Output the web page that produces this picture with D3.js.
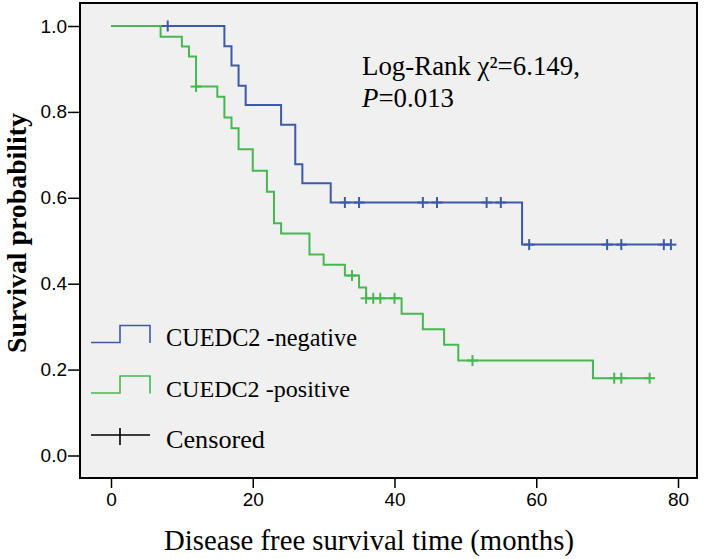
<!DOCTYPE html>
<html><head><meta charset="utf-8">
<script src="https://cdn.jsdelivr.net/npm/d3@7"></script>
<style>body{margin:0;background:#fff}svg{display:block}</style>
</head><body>
<svg id="c" width="713" height="559"></svg>
<script>
// ---- data ----
const xTicks = [0, 20, 40, 60, 80];
const yTicks = [0.0, 0.2, 0.4, 0.6, 0.8, 1.0];
const yTickLabels = ["0.0", "0.2", "0.4", "0.6", "0.8", "1.0"];

const negTimes = [0, 16, 17, 18, 19, 24, 26, 27, 31, 58];
const negSurv  = [1, 0.953, 0.908, 0.861, 0.816, 0.770, 0.678, 0.634, 0.589, 0.491];
const negEnd = 79;
const negCensored = [8, 33, 35, 44, 46, 53, 55, 59, 70, 72, 78, 79];

const posTimes = [0, 7, 10, 11, 12, 15, 16, 17, 18, 20, 22, 23, 24, 28, 30, 33, 35, 36, 41, 44, 47, 49, 68];
const posSurv  = [1, 0.975, 0.952, 0.929, 0.859, 0.835, 0.787, 0.762, 0.713, 0.663, 0.614, 0.541, 0.517, 0.468, 0.444, 0.419, 0.391, 0.366, 0.330, 0.294, 0.258, 0.221, 0.180];
const posEnd = 76;
const posCensored = [12, 34, 36, 37, 38, 40, 51, 71, 72, 76];

const legendLabels = ["CUEDC2 -negative", "CUEDC2 -positive", "Censored"];
const statLine1 = "Log-Rank \u03c7\u00b2=6.149,";
const statLine2 = "=0.013";
const xTitle = "Disease free survival time (months)";
const yTitle = "Survival probability";

// ---- styles ----
const BLUE = "#3d5aa9", GREEN = "#45b84f";
const SANS = "'Liberation Sans Narrow','Arial Narrow','Liberation Sans',Arial,sans-serif";
const SERIF = "'Liberation Serif','Times New Roman',serif";

const svg = d3.select("#c");
const frame = {l: 80, r: 697, t: 3, b: 478};
const x = d3.scaleLinear().domain([0, 80]).range([111, 678]);
const y = d3.scaleLinear().domain([0, 1]).range([455.5, 26]);

svg.append("rect").attr("x", frame.l).attr("y", frame.t)
  .attr("width", frame.r - frame.l).attr("height", frame.b - frame.t)
  .attr("fill", "#f0f0f0").attr("stroke", "none");

function fit(sel, w) {
  const fs = parseFloat(sel.attr("font-size"));
  const l = sel.node().getComputedTextLength();
  sel.attr("font-size", (fs * w / l).toFixed(2));
  return sel;
}

// axes
const yAxis = d3.axisLeft(y).tickValues(yTicks).tickSize(12).tickPadding(1)
  .tickFormat((d, i) => yTickLabels[i]);
const gy = svg.append("g").attr("transform", `translate(${frame.l},0)`).call(yAxis);
gy.select(".domain").remove();
gy.selectAll("line").attr("stroke", "#000").attr("stroke-width", 1.5);
gy.selectAll("text").attr("font-family", SANS).attr("font-size", 19).attr("fill", "#000");

const xAxis = d3.axisBottom(x).tickValues(xTicks).tickSize(10).tickPadding(5)
  .tickFormat(d3.format("d"));
const gx = svg.append("g").attr("transform", `translate(0,${frame.b})`).call(xAxis);
gx.select(".domain").remove();
gx.selectAll("line").attr("stroke", "#000").attr("stroke-width", 1.5);
gx.selectAll("text").attr("font-family", SANS).attr("font-size", 19).attr("fill", "#000");

// curves
const line = d3.line().x(d => x(d[0])).y(d => y(d[1])).curve(d3.curveStepAfter);
function survAt(times, surv, t) {
  let s = surv[0];
  for (let i = 0; i < times.length; i++) if (times[i] <= t) s = surv[i];
  return s;
}
function drawCurve(times, surv, end, cens, color) {
  const pts = times.map((t, i) => [t, surv[i]]);
  pts.push([end, surv[surv.length - 1]]);
  svg.append("path").attr("d", line(pts)).attr("fill", "none")
    .attr("stroke", color).attr("stroke-width", 2);
  const g = svg.append("g");
  cens.forEach(t => {
    const cx = x(t), cy = y(survAt(times, surv, t));
    g.append("line").attr("x1", cx).attr("x2", cx).attr("y1", cy - 5.5).attr("y2", cy + 5.5)
      .attr("stroke", color).attr("stroke-width", 2);
    g.append("line").attr("x1", cx - 5.5).attr("x2", cx + 5.5).attr("y1", cy).attr("y2", cy)
      .attr("stroke", color).attr("stroke-width", 2);
  });
}
drawCurve(negTimes, negSurv, negEnd, negCensored, BLUE);
drawCurve(posTimes, posSurv, posEnd, posCensored, GREEN);

// frame
svg.append("rect").attr("x", frame.l).attr("y", frame.t)
  .attr("width", frame.r - frame.l).attr("height", frame.b - frame.t)
  .attr("fill", "none").attr("stroke", "#000").attr("stroke-width", 2);

// legend
const lg = svg.append("g");
const legColors = [BLUE, GREEN];
const legBase = [342.5, 393];
legColors.forEach((c, i) => {
  const b = legBase[i];
  lg.append("path").attr("d", `M91,${b}H120V${b - 17}H150V${b + 0.5}`)
    .attr("fill", "none").attr("stroke", c).attr("stroke-width", 1.6);
});
lg.append("line").attr("x1", 91).attr("x2", 150).attr("y1", 435).attr("y2", 435)
  .attr("stroke", "#000").attr("stroke-width", 1.6);
lg.append("line").attr("x1", 120).attr("x2", 120).attr("y1", 428).attr("y2", 445)
  .attr("stroke", "#000").attr("stroke-width", 1.6);
const legY = [345.5, 396.5, 447.5];
const legW = [191, 184, 99];
legendLabels.forEach((t, i) => {
  const tx = lg.append("text").attr("x", 166).attr("y", legY[i])
    .attr("font-family", SERIF).attr("font-size", 24).attr("fill", "#000").text(t);
  fit(tx, legW[i]);
});

// stats annotation
const s1 = svg.append("text").attr("x", 362).attr("y", 75)
  .attr("font-family", SERIF).attr("font-size", 22).attr("fill", "#000").text(statLine1);
fit(s1, 218);
const s2 = svg.append("text").attr("x", 362).attr("y", 106.5)
  .attr("font-family", SERIF).attr("font-size", s1.attr("font-size")).attr("fill", "#000");
s2.append("tspan").attr("font-style", "italic").text("P");
s2.append("tspan").text(statLine2);

// axis titles
const xt = svg.append("text").attr("x", 369).attr("y", 550).attr("text-anchor", "middle")
  .attr("font-family", SERIF).attr("font-size", 24).attr("fill", "#000").text(xTitle);
fit(xt, 410);
const yt = svg.append("text").attr("transform", "translate(26,233) rotate(-90)")
  .attr("text-anchor", "middle")
  .attr("font-family", SERIF).attr("font-weight", "bold").attr("font-size", 27)
  .attr("fill", "#000").text(yTitle);
fit(yt, 240);
</script>
</body></html>
